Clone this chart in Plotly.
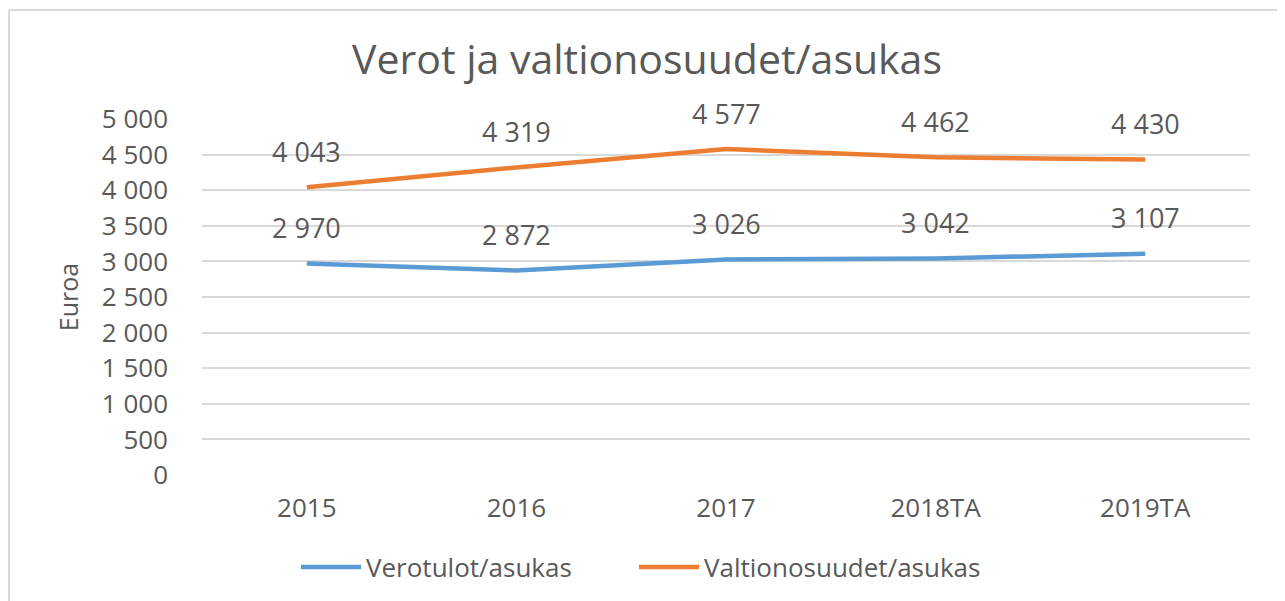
import plotly.graph_objects as go

categories = ["2015", "2016", "2017", "2018TA", "2019TA"]
verotulot = [2970, 2872, 3026, 3042, 3107]
valtionosuudet = [4043, 4319, 4577, 4462, 4430]
y_ticks = [0, 500, 1000, 1500, 2000, 2500, 3000, 3500, 4000, 4500, 5000]

def fmt(v):
    return f"{v:,}".replace(",", " ")

# page offset from default body margin
OFF = 8
PW, PH = 1285, 601
W, H = PW - OFF, PH - OFF
# target page coordinates of plot area
PL, PR, PT, PB = 202, 1250, 119, 475
L = PL - OFF
R = PW - PR
T = PT - OFF
B = PH - PB
pw = PR - PL
ph = PB - PT

def px_x(px):
    return (px - PL) / pw

def px_y(py):
    return (PB - py) / ph

FONT = "Open Sans"
GRAY = "#595959"

fig = go.Figure()
fig.add_trace(go.Scatter(x=categories, y=verotulot, mode="lines", name="Verotulot/asukas",
                         line=dict(color="#5B9BD5", width=4.5), legend="legend", showlegend=True))
fig.add_trace(go.Scatter(x=categories, y=valtionosuudet, mode="lines", name="Valtionosuudet/asukas",
                         line=dict(color="#ED7D31", width=4.5), legend="legend2", showlegend=True))

annotations = []
for series in (verotulot, valtionosuudet):
    for i, v in enumerate(series):
        annotations.append(dict(x=i, y=v, xref="x", yref="y", text=fmt(v), showarrow=False, yshift=36,
                                font=dict(family=FONT, size=27, color=GRAY)))

shapes = [
    dict(type="line", xref="paper", yref="paper", x0=px_x(9), x1=px_x(1300), y0=px_y(10), y1=px_y(10),
         line=dict(color="#d9d9d9", width=2)),
    dict(type="line", xref="paper", yref="paper", x0=px_x(9), x1=px_x(9), y0=px_y(10), y1=px_y(620),
         line=dict(color="#d9d9d9", width=2)),
]

legend_common = dict(orientation="h", xanchor="left", y=px_y(567), yanchor="middle",
                     font=dict(family=FONT, size=26, color=GRAY), itemwidth=60,
                     bgcolor="rgba(0,0,0,0)", visible=True)

fig.update_layout(
    width=W, height=H,
    showlegend=True,
    margin=dict(l=L, r=R, t=T, b=B, autoexpand=False),
    paper_bgcolor="white", plot_bgcolor="white",
    title=dict(text="Verot ja valtionosuudet/asukas", x=((352 + 942) / 2 - OFF) / W, xanchor="center",
               y=1 - (60 - OFF) / H, yanchor="middle",
               font=dict(family=FONT, size=41, color=GRAY)),
    xaxis=dict(type="category", range=[-0.5, 4.5], showgrid=False, zeroline=False, showline=False,
               ticks="", ticklabelstandoff=15, tickfont=dict(family=FONT, size=26, color=GRAY)),
    yaxis=dict(range=[0, 5000], tickvals=y_ticks, ticktext=[fmt(v) for v in y_ticks],
               showgrid=True, gridcolor="#d9d9d9", gridwidth=1.5, zeroline=False, showline=False,
               ticks="", ticklen=0, ticklabelstandoff=33, tickfont=dict(family=FONT, size=26, color=GRAY),
               title=dict(text="Euroa", font=dict(family=FONT, size=25, color=GRAY), standoff=16)),
    legend=dict(x=px_x(296), **legend_common),
    legend2=dict(x=px_x(634), **legend_common),
    annotations=annotations,
    shapes=shapes,
)

fig.write_html("out.html")
